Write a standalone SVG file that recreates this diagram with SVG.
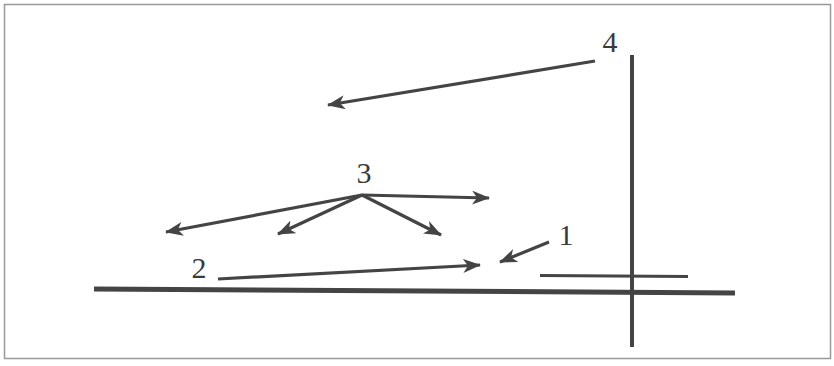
<svg xmlns="http://www.w3.org/2000/svg" width="834" height="366" viewBox="0 0 834 366">
<style>
.lbl{font-family:'Liberation Serif','DejaVu Serif','Times New Roman',serif;font-size:30px;fill:#3a3a3a;text-anchor:middle}
.arr{stroke:#444;stroke-width:3.2;fill:none;marker-end:url(#ah)}
.bar{stroke:#444;fill:none}
</style>
<defs>
<marker id="ah" viewBox="0 0 18 14" refX="17" refY="7" markerWidth="18" markerHeight="14" markerUnits="userSpaceOnUse" orient="auto">
<path d="M0,0 L18,7 L0,14 L5,7 Z" fill="#444"/>
</marker>
</defs>
<rect x="4.5" y="4.5" width="826" height="354" fill="#fff" stroke="#999" stroke-width="1.5"/>
<g id="structure">
<line class="bar" x1="94" y1="289" x2="735" y2="293" stroke-width="5"/>
<line class="bar" x1="632" y1="55" x2="632" y2="347" stroke-width="4"/>
<line class="bar" x1="540" y1="275.5" x2="688" y2="276.5" stroke-width="3"/>
</g>
<g id="label4"><text class="lbl" x="610" y="52">4</text></g>
<g id="label3"><text class="lbl" x="364" y="183">3</text></g>
<g id="label1"><text class="lbl" x="566" y="245">1</text></g>
<g id="label2"><text class="lbl" x="199" y="278">2</text></g>
<g id="connectors">
<line class="arr" x1="595" y1="61" x2="328" y2="105"/>
<line class="arr" x1="362" y1="195" x2="166" y2="232"/>
<line class="arr" x1="362" y1="195" x2="278" y2="234"/>
<line class="arr" x1="362" y1="195" x2="441" y2="235"/>
<line class="arr" x1="362" y1="195" x2="489" y2="198"/>
<line class="arr" x1="549" y1="242" x2="500" y2="262"/>
<line class="arr" x1="218" y1="279" x2="480" y2="265"/>
</g>
</svg>
